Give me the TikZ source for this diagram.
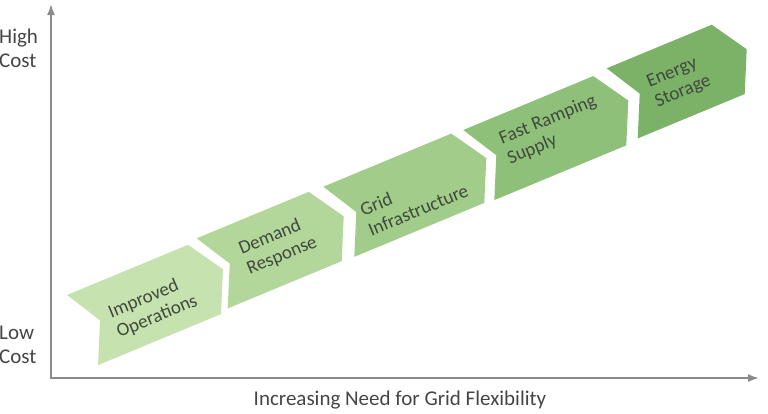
\documentclass[tikz,border=0pt]{standalone}
\usepackage{fontspec}
\setmainfont{Carlito}
\usetikzlibrary{arrows.meta}
\definecolor{cA}{HTML}{C6E2AE}
\definecolor{cB}{HTML}{B3D79A}
\definecolor{cC}{HTML}{A1CC8A}
\definecolor{cD}{HTML}{8EC07A}
\definecolor{cE}{HTML}{7BB268}
\definecolor{axisgray}{HTML}{8A8A8A}
\definecolor{textgray}{HTML}{3F4A3C}
\definecolor{labelgray}{HTML}{454545}
\newcommand\chevshape[4]{%
  \fill[#4] (#1,#2) -- ({#1+#3},{#2-0.415*#3})
    -- ({#1+#3+35},{#2-0.415*(#3+35)+39})
    -- ({#1+#3+33},{#2-0.415*(#3+33)+83})
    -- ({#1+31},{#2-0.415*31+83})
    -- ({#1+33},{#2-0.415*33+39}) -- cycle;}
\tikzset{
  axisline/.style={draw=axisgray, line width=1.8pt, -{Latex[length=11pt,width=8pt]}},
  chevtext/.style={rotate=22.5, align=left, font=\fontsize{19}{21.5}\selectfont, text=textgray, inner sep=0pt},
  axislabel/.style={align=left, font=\fontsize{21}{24}\selectfont, text=labelgray, inner sep=0pt}
}
\begin{document}
\begin{tikzpicture}[x=1pt,y=-1pt]
\useasboundingbox (0,0) rectangle (768,413);
% chevrons
\chevshape{67}{295}{121}{cA}
\chevshape{196.7}{238.3}{112}{cB}
\chevshape{323.3}{186.7}{128}{cC}
\chevshape{463.3}{130}{130}{cD}
\chevshape{606.7}{68.3}{105}{cE}
% chevron labels
\node[chevtext] (t1) at (153,307) {Improved\\Operations};
\node[chevtext] (t2) at (278,246) {Demand\\Response};
\node[chevtext] (t3) at (414,200) {Grid\\Infrastructure};
\node[chevtext] (t4) at (552,130) {Fast Ramping\\Supply};
\node[chevtext] (t5) at (679,82) {Energy\\Storage};
% axes
\coordinate (O) at (51,378);
\coordinate (Y) at (51,4);
\coordinate (X) at (759,378);
\draw[axisline] (O) -- (Y);
\draw[axisline] ([xshift=-0.9pt]O) -- (X);
% axis labels
\node[axislabel, anchor=west] (hc) at (-1,48) {High\\Cost};
\node[axislabel, anchor=west] (lc) at (-1,345) {Low\\Cost};
\node[axislabel] (xl) at (400,400) {Increasing Need for Grid Flexibility};
\end{tikzpicture}
\end{document}
